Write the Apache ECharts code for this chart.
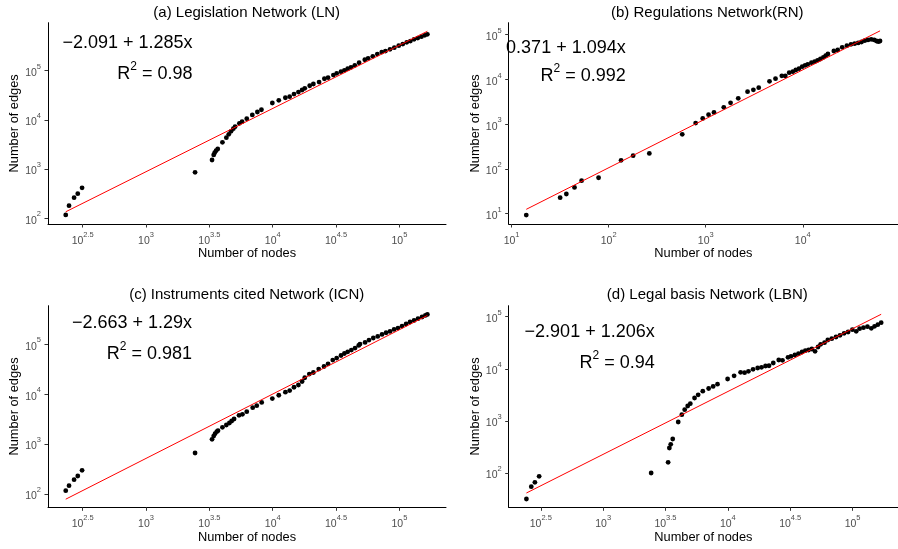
<!DOCTYPE html>
<html>
<head>
<meta charset="utf-8">
<script src="https://cdn.jsdelivr.net/npm/echarts@6/dist/echarts.min.js"></script>
<style>
html,body{margin:0;padding:0;background:#fff;}
#chart{width:898px;height:549px;}
</style>
</head>
<body>
<div id="chart"></div>
<script>
// ---- Data (log10 of counts) ----
const panelTitles = ['(a) Legislation Network (LN)', '(b) Regulations Network(RN)', '(c) Instruments cited Network (ICN)', '(d) Legal basis Network (LBN)'];

const aNodesLog10 = [2.366,2.392,2.432,2.461,2.495,3.387,3.521,3.534,3.542,3.553,3.566,3.603,3.634,3.653,3.671,3.689,3.703,3.737,3.758,3.795,3.839,3.879,3.911,3.997,4.048,4.100,4.134,4.168,4.203,4.232,4.253,4.292,4.321,4.366,4.408,4.437,4.479,4.505,4.539,4.566,4.592,4.618,4.648,4.682,4.727,4.753,4.790,4.826,4.861,4.890,4.926,4.960,4.995,5.027,5.058,5.087,5.116,5.145,5.174,5.200,5.221];
const aEdgesLog10 = [2.068,2.257,2.420,2.500,2.620,2.935,3.185,3.287,3.334,3.375,3.408,3.544,3.639,3.706,3.767,3.822,3.862,3.930,3.964,4.025,4.100,4.160,4.206,4.343,4.397,4.450,4.471,4.525,4.566,4.607,4.641,4.694,4.729,4.769,4.836,4.857,4.911,4.946,4.979,5.007,5.040,5.068,5.108,5.161,5.222,5.251,5.291,5.338,5.379,5.399,5.434,5.467,5.508,5.541,5.576,5.602,5.637,5.663,5.690,5.718,5.738];

const bNodesLog10 = [1.151,1.500,1.564,1.648,1.721,1.896,2.128,2.252,2.419,2.758,2.896,2.969,3.029,3.085,3.186,3.256,3.335,3.431,3.491,3.546,3.657,3.719,3.784,3.820,3.860,3.897,3.928,3.961,3.994,4.024,4.051,4.089,4.122,4.152,4.182,4.212,4.236,4.259,4.320,4.360,4.406,4.454,4.497,4.534,4.571,4.605,4.638,4.672,4.705,4.735,4.759,4.779,4.796];
const bEdgesLog10 = [0.970,1.358,1.440,1.588,1.737,1.804,2.192,2.296,2.348,2.773,3.026,3.130,3.213,3.262,3.377,3.477,3.578,3.726,3.768,3.816,3.958,4.017,4.080,4.077,4.151,4.173,4.211,4.240,4.285,4.316,4.339,4.374,4.397,4.428,4.457,4.495,4.531,4.569,4.636,4.658,4.718,4.754,4.785,4.799,4.815,4.837,4.866,4.882,4.897,4.882,4.859,4.844,4.859];

const cNodesLog10 = [2.366,2.392,2.432,2.461,2.495,3.387,3.521,3.534,3.545,3.558,3.568,3.603,3.634,3.658,3.676,3.695,3.734,3.761,3.795,3.842,3.874,3.913,3.997,4.048,4.100,4.134,4.168,4.203,4.232,4.253,4.289,4.321,4.363,4.405,4.437,4.474,4.505,4.539,4.566,4.592,4.621,4.650,4.679,4.689,4.729,4.760,4.794,4.829,4.863,4.895,4.926,4.958,4.989,5.021,5.053,5.084,5.116,5.147,5.179,5.205,5.221];
const cEdgesLog10 = [2.067,2.167,2.287,2.361,2.474,2.822,3.096,3.162,3.209,3.249,3.269,3.336,3.383,3.423,3.463,3.503,3.577,3.597,3.650,3.730,3.770,3.835,3.912,3.980,4.042,4.074,4.140,4.185,4.255,4.330,4.404,4.436,4.504,4.556,4.610,4.684,4.725,4.777,4.817,4.851,4.886,4.926,4.978,5.006,5.038,5.086,5.127,5.159,5.199,5.233,5.259,5.300,5.327,5.367,5.408,5.448,5.480,5.514,5.548,5.580,5.600];

const dNodesLog10 = [2.385,2.424,2.453,2.487,3.385,3.521,3.531,3.542,3.558,3.602,3.631,3.654,3.678,3.699,3.733,3.762,3.799,3.846,3.882,3.917,3.998,4.050,4.102,4.134,4.165,4.202,4.239,4.270,4.302,4.330,4.364,4.408,4.438,4.482,4.506,4.537,4.566,4.595,4.621,4.647,4.673,4.699,4.723,4.744,4.775,4.801,4.833,4.867,4.899,4.932,4.964,4.998,5.029,5.056,5.087,5.119,5.150,5.176,5.202,5.229];
const dEdgesLog10 = [1.501,1.738,1.821,1.936,2.000,2.205,2.480,2.550,2.653,2.979,3.120,3.216,3.286,3.331,3.440,3.500,3.570,3.622,3.662,3.705,3.804,3.865,3.933,3.925,3.952,3.990,4.015,4.029,4.054,4.059,4.111,4.169,4.163,4.221,4.240,4.265,4.290,4.322,4.347,4.361,4.380,4.336,4.418,4.470,4.501,4.553,4.578,4.610,4.643,4.681,4.706,4.750,4.720,4.770,4.789,4.808,4.777,4.816,4.847,4.885];

// Fit: ln(edges) = intercept + slope * ln(nodes)
const fitIntercepts = [-2.091, -0.371, -2.663, -2.901];
const fitSlopes = [1.285, 1.094, 1.29, 1.206];
const fitLine1 = ['\u22122.091 + 1.285x', '0.371 + 1.094x', '\u22122.663 + 1.29x', '\u22122.901 + 1.206x'];
const fitR2 = ['0.98', '0.992', '0.981', '0.94'];

// Tick exponents
const xTicksA = [2.5, 3, 3.5, 4, 4.5, 5];
const xTicksB = [1, 2, 3, 4];
const yTicksA = [2, 3, 4, 5];
const yTicksB = [1, 2, 3, 4, 5];

// ---- Layout ----
const FONT = '"Liberation Sans", Arial, Helvetica, sans-serif';
const nodes = [aNodesLog10, bNodesLog10, cNodesLog10, dNodesLog10];
const edges = [aEdgesLog10, bEdgesLog10, cEdgesLog10, dEdgesLog10];
const grids = [
  {left: 48, top: 22.7, width: 398, height: 201.3},
  {left: 508.7, top: 22.7, width: 398.7, height: 201.3},
  {left: 48, top: 305.7, width: 398, height: 201.6},
  {left: 508.7, top: 305.7, width: 397.3, height: 201.6}
];
const xRanges = [[2.226, 5.368], [0.970, 4.981], [2.226, 5.368], [2.243, 5.364]];
const yRanges = [[1.884, 5.975], [0.770, 5.268], [1.733, 5.775], [1.342, 5.211]];
const xTicks = [xTicksA, xTicksB, xTicksA, xTicksA];
const yTicks = [yTicksA, yTicksB, yTicksA, yTicksA];
const titlePos = [[246.7, 14], [707.3, 14], [246.7, 296.7], [707.3, 296.7]];
const eqPos = [[192.5, 43.3, 71.7], [625.7, 47.7, 74], [192, 323.3, 352], [654.7, 332.3, 361]];

const LN10 = Math.LN10;
const supRich = {
  b: {fontSize: 10.5, color: '#4d4d4d', lineHeight: 16, verticalAlign: 'bottom', fontFamily: FONT},
  s: {fontSize: 7.5, color: '#4d4d4d', lineHeight: 9, verticalAlign: 'top', fontFamily: FONT}
};
function powLabel(v) {
  const e = Math.round(v * 10) / 10;
  return '{b|10}{s|' + e + '}';
}

function axisCommon(i, isX) {
  const ticks = isX ? xTicks[i] : yTicks[i];
  const range = isX ? xRanges[i] : yRanges[i];
  return {
    type: 'value',
    gridIndex: i,
    min: range[0],
    max: range[1],
    name: isX ? 'Number of nodes' : 'Number of edges',
    nameLocation: 'middle',
    nameGap: isX ? 23 : 20,
    nameTextStyle: {fontSize: 12.8, color: '#000', fontFamily: FONT},
    splitLine: {show: false},
    axisLine: {show: true, onZero: false, lineStyle: {color: '#000', width: 1}},
    axisTick: {show: true, length: 3.5, customValues: ticks, lineStyle: {color: '#333', width: 1}},
    axisLabel: {show: true, customValues: ticks, margin: isX ? 6.5 : 7, formatter: powLabel, rich: supRich}
  };
}

const xAxis = [], yAxis = [], series = [], title = [], graphic = [];
for (let i = 0; i < 4; i++) {
  xAxis.push(axisCommon(i, true));
  yAxis.push(axisCommon(i, false));
  const pts = nodes[i].map((x, k) => [x, edges[i][k]]);
  series.push({
    type: 'scatter', xAxisIndex: i, yAxisIndex: i, data: pts,
    symbolSize: 4.8, itemStyle: {color: '#000', opacity: 1}, z: 2
  });
  const xmin = Math.min.apply(null, nodes[i]);
  const xmax = Math.max.apply(null, nodes[i]);
  const fy = x => fitIntercepts[i] / LN10 + fitSlopes[i] * x;
  series.push({
    type: 'line', xAxisIndex: i, yAxisIndex: i,
    data: [[xmin, fy(xmin)], [xmax, fy(xmax)]],
    showSymbol: false, symbol: 'none', lineStyle: {color: '#ff0000', width: 1}, z: 3, silent: true
  });
  title.push({
    text: panelTitles[i], left: titlePos[i][0], top: titlePos[i][1] - 9, textAlign: 'center', padding: 0,
    textStyle: {fontSize: 15, fontWeight: 'normal', color: '#000', fontFamily: FONT}
  });
  graphic.push({
    type: 'text', x: eqPos[i][0], y: eqPos[i][1], z: 10,
    style: {text: fitLine1[i], fill: '#000', font: '18px ' + FONT, textAlign: 'right', textVerticalAlign: 'middle'}
  });
  graphic.push({
    type: 'text', x: eqPos[i][0], y: eqPos[i][2], z: 10,
    style: {
      text: '{r|R}{s|2}{r| = ' + fitR2[i] + '}', textAlign: 'right', textVerticalAlign: 'middle',
      rich: {
        r: {fontSize: 18, lineHeight: 22, verticalAlign: 'bottom', fill: '#000', fontFamily: FONT},
        s: {fontSize: 12, lineHeight: 12, verticalAlign: 'top', fill: '#000', fontFamily: FONT}
      }
    }
  });
}

const chart = echarts.init(document.getElementById('chart'), null, {renderer: 'canvas'});
chart.setOption({
  animation: false,
  backgroundColor: '#fff',
  textStyle: {fontFamily: FONT},
  title: title,
  grid: grids,
  xAxis: xAxis,
  yAxis: yAxis,
  series: series,
  graphic: graphic
});
</script>
</body>
</html>
